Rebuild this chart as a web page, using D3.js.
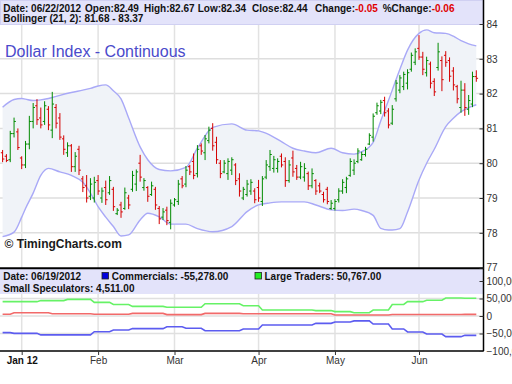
<!DOCTYPE html>
<html><head><meta charset="utf-8">
<script src="https://cdn.jsdelivr.net/npm/d3@7"></script>
<style>body{margin:0;background:#fff;} svg{display:block;font-family:"Liberation Sans",Arial,sans-serif;}</style>
</head><body><svg id="c" width="512" height="384"></svg>
<script>
// ---- Price data (daily OHLC, Dec 23 2011 .. Jun 22 2012) ----
const highs = [80.38,80.26,80.93,81.31,81.00,80.20,80.64,81.36,81.73,81.84,81.60,81.78,81.64,82.05,81.70,81.44,80.80,80.60,80.55,80.32,80.50,79.63,79.66,79.57,79.61,79.66,79.30,79.50,79.63,79.32,78.71,78.89,79.30,79.09,79.78,79.82,80.24,79.57,79.34,79.47,79.32,78.77,78.71,78.75,78.96,79.00,79.52,79.63,79.92,79.95,80.28,80.52,80.57,80.81,81.05,81.15,80.76,80.09,80.09,80.14,80.17,80.00,79.71,79.32,79.52,79.54,79.28,79.52,79.63,80.09,80.38,80.21,80.14,80.28,80.17,80.09,80.36,79.95,80.04,80.00,79.76,79.85,79.54,79.44,79.18,79.32,78.94,78.97,79.28,79.54,79.61,80.14,80.11,80.43,80.33,80.47,80.86,81.43,81.74,81.82,81.91,81.58,81.67,82.39,82.53,82.63,82.70,83.18,83.30,83.68,83.20,83.06,82.92,82.44,83.46,83.07,83.22,83.04,82.76,82.25,82.37,82.30,81.96,82.63,82.67];
const lows = [80.03,80.03,80.03,80.74,80.38,79.83,79.86,80.40,81.00,81.10,81.00,81.10,80.95,80.72,81.00,80.67,80.24,80.18,79.75,79.75,79.66,79.17,78.87,78.94,78.87,79.09,78.86,78.80,79.09,78.63,78.51,78.43,78.66,78.68,79.18,79.20,79.47,79.21,78.89,79.06,78.66,78.25,78.37,78.22,78.10,78.75,78.80,79.28,79.31,79.66,79.54,79.59,80.24,80.09,80.57,80.36,79.98,79.57,79.71,79.52,79.66,79.37,79.04,78.94,79.04,79.09,78.85,78.89,78.77,79.54,79.78,79.73,79.73,79.88,79.32,79.44,79.61,79.52,79.54,79.47,79.23,79.28,79.09,79.14,78.87,78.82,78.66,78.64,78.87,79.12,79.14,79.61,79.66,80.00,80.07,80.19,80.52,80.62,81.39,81.41,81.34,81.00,81.10,81.77,82.01,82.10,82.12,82.63,82.82,82.97,82.53,82.49,82.15,81.93,82.66,82.07,82.77,82.34,82.09,81.72,81.45,81.36,81.39,81.61,82.34];
const opens = [80.30,80.20,80.10,80.85,80.90,80.15,79.95,80.55,81.20,81.65,81.30,81.20,81.55,80.95,81.60,81.30,80.70,80.30,80.50,79.90,80.40,79.55,79.35,79.05,79.00,79.50,79.00,79.30,79.15,79.25,78.55,78.80,78.70,79.00,79.25,79.40,80.00,79.30,79.30,79.10,79.25,78.70,78.45,78.65,78.30,78.80,78.90,79.55,79.40,79.90,80.05,79.70,80.50,80.30,80.65,81.00,80.60,80.00,79.75,79.70,79.80,79.95,79.55,79.00,79.10,79.20,79.20,79.30,78.90,79.60,79.90,79.85,79.85,80.20,80.05,79.50,80.15,79.85,79.60,79.60,79.70,79.35,79.50,79.35,79.10,79.25,78.70,78.70,78.95,79.20,79.30,79.65,79.80,80.05,80.10,80.25,80.55,80.75,81.45,81.50,81.80,81.50,81.15,81.85,82.10,82.20,82.30,82.70,82.90,83.30,83.05,82.60,82.85,82.35,82.75,82.95,83.10,82.95,82.65,82.20,81.60,82.10,81.55,81.70,82.49];
const closes = [80.12,80.08,80.85,81.20,80.45,79.95,80.55,81.20,81.60,81.25,81.10,81.65,81.10,81.70,81.15,80.75,80.40,80.50,79.90,80.20,79.80,79.30,79.00,79.40,79.45,79.20,79.20,78.95,79.50,78.75,78.65,78.60,79.15,78.80,79.65,79.75,79.60,79.50,79.05,79.35,78.80,78.40,78.60,78.35,78.85,78.95,79.40,79.35,79.80,79.75,79.65,80.40,80.35,80.70,80.95,80.50,80.10,79.70,80.00,80.05,80.10,79.50,79.20,79.25,79.40,79.45,78.95,79.00,79.55,79.95,80.25,80.10,80.05,79.95,79.50,79.95,79.75,79.60,79.90,79.85,79.35,79.70,79.20,79.20,78.95,78.90,78.85,78.90,79.20,79.45,79.55,80.05,80.00,80.35,80.25,80.40,80.80,81.35,81.65,81.75,81.45,81.10,81.55,82.30,82.45,82.55,82.60,83.10,83.20,83.05,82.70,82.95,82.30,82.05,83.20,82.40,82.90,82.50,82.25,81.85,82.10,81.60,81.80,82.49,82.44];

// ---- Bollinger (21,2) ----
const bandIdx   = [0,3,5,6,8,10,12,15,18,21,23,25,27,29,31,33,36,38,41,44,48,51,55,60,64,67,70,73,76,79,82,86,89,92,94,97,99,101,102,104,106,109,111,113,116,118,120,122,124];
const upperBand = [81.61,81.83,81.86,81.84,81.80,81.82,81.86,81.95,82.03,82.10,82.15,82.22,82.25,82.08,81.85,81.30,80.47,80.10,79.82,79.78,79.88,80.43,81.03,81.13,80.95,80.93,80.81,80.62,80.43,80.35,80.30,80.43,80.30,80.26,80.33,80.60,81.22,81.80,82.10,82.70,83.25,83.73,83.83,83.75,83.73,83.65,83.52,83.43,83.37];
const lowerBand = [77.89,78.02,78.45,78.70,79.14,79.65,79.85,79.75,79.65,79.45,79.14,78.75,78.45,78.18,77.91,77.94,78.37,78.56,78.46,78.25,78.25,78.12,78.03,78.18,78.61,78.80,78.86,78.89,78.89,78.89,78.80,78.66,78.64,78.68,78.64,78.50,78.13,78.08,78.08,78.12,78.60,79.52,80.00,80.40,81.05,81.29,81.48,81.60,81.68];

// ---- Commitment of Traders (weekly, effective from bar index) ----
const cotIdx       = [0,3,10,13,17,24,29,34,43,48,53,63,68,82,87,92,97,102,106,111,116,121];
const commercials  = [-47500,-49500,-54000,-54000,-54000,-45000,-40000,-36000,-30500,-35000,-42000,-37000,-25500,-21000,-17000,-14000,-23000,-37000,-45700,-51400,-59000,-55278];
const largeTraders = [41000,41000,44000,44000,47500,39000,33000,27500,25000,25000,35000,29500,17000,15500,12500,9500,17000,33000,41000,45000,51500,50767];
const smallSpecs   = [5000,9500,9500,6500,6500,5000,5000,7500,4000,4000,7500,6500,6500,6500,3000,3000,3000,4500,4500,4500,4500,4511];

// ---- Axis ticks / labels ----
const monthTickIdx = [5,25,45,67,87,109];
const monthLabels  = ["Jan 12","Feb","Mar","Apr","May","Jun"];
const priceTicks   = [77,78,79,80,81,82,83,84];
const cotTicks     = [100000,50000,0,-50000,-100000];

const svg = d3.select("#c");
const W = 483.5;
const x = d3.scaleLinear().domain([0,124]).range([2.6,476.3]);
const y = d3.scaleLinear().domain([77,84]).range([267.6,24]);
const y2 = d3.scaleLinear().domain([-100000,100000]).range([351,281]);

const defs = svg.append("defs");
defs.append("clipPath").attr("id","cp1").append("rect").attr("x",0).attr("y",24).attr("width",W).attr("height",244);
defs.append("clipPath").attr("id","cp2").append("rect").attr("x",0).attr("y",294).attr("width",W).attr("height",57);

// ---- gridlines ----
const grid = svg.append("g");
grid.selectAll("line.h").data(priceTicks.filter(d=>d>77 && d<84)).join("line")
  .attr("x1",0).attr("x2",W).attr("y1",d=>y(d)).attr("y2",d=>y(d))
  .attr("stroke","#dedede").attr("stroke-width",1.5);
grid.selectAll("line.v").data(monthTickIdx).join("line")
  .attr("x1",d=>x(d)).attr("x2",d=>x(d)).attr("y1",24).attr("y2",268)
  .attr("stroke","#e2e2e2").attr("stroke-width",1.5);
const grid2 = svg.append("g");
grid2.selectAll("line").data(monthTickIdx).join("line")
  .attr("x1",d=>x(d)).attr("x2",d=>x(d)).attr("y1",294).attr("y2",351)
  .attr("stroke","#e2e2e2").attr("stroke-width",1.5);
const grid3 = svg.append("g");
grid3.selectAll("line").data([50000,0,-50000]).join("line")
  .attr("x1",0).attr("x2",W).attr("y1",d=>y2(d)).attr("y2",d=>y2(d))
  .attr("stroke","#e0e0e0").attr("stroke-width",1.5);

// ---- Bollinger band ----
const topG = svg.append("g").attr("clip-path","url(#cp1)");
const bandPts = bandIdx.map((d,i)=>({i:d,u:upperBand[i],l:lowerBand[i]}));
topG.append("path").datum(bandPts)
  .attr("d", d3.area().x(d=>x(d.i)).y0(d=>y(d.l)).y1(d=>y(d.u)).curve(d3.curveMonotoneX))
  .attr("fill","#f0f3f8");
topG.append("path").datum(bandPts)
  .attr("d", d3.line().x(d=>x(d.i)).y(d=>y(d.u)).curve(d3.curveMonotoneX))
  .attr("fill","none").attr("stroke","#a9a9f7").attr("stroke-width",1.4);
topG.append("path").datum(bandPts)
  .attr("d", d3.line().x(d=>x(d.i)).y(d=>y(d.l)).curve(d3.curveMonotoneX))
  .attr("fill","none").attr("stroke","#a9a9f7").attr("stroke-width",1.4);

// ---- OHLC bars ----
const bars = highs.map((h,i)=>({i,h,l:lows[i],o:opens[i],c:closes[i]}));
const col = d=> d.c>=d.o ? "#008a00" : "#d40000";
const bg = topG.append("g");
bg.selectAll("line.hl").data(bars).join("line").attr("class","hl")
  .attr("x1",d=>x(d.i)).attr("x2",d=>x(d.i)).attr("y1",d=>y(d.h)).attr("y2",d=>y(d.l))
  .attr("stroke",col).attr("stroke-width",1);
bg.selectAll("line.o").data(bars).join("line").attr("class","o")
  .attr("x1",d=>x(d.i)-1.8).attr("x2",d=>x(d.i)).attr("y1",d=>y(d.o)).attr("y2",d=>y(d.o))
  .attr("stroke",col).attr("stroke-width",1);
bg.selectAll("line.c").data(bars).join("line").attr("class","c")
  .attr("x1",d=>x(d.i)).attr("x2",d=>x(d.i)+1.8).attr("y1",d=>y(d.c)).attr("y2",d=>y(d.c))
  .attr("stroke",col).attr("stroke-width",1);

// ---- COT lines ----
const bot = svg.append("g").attr("clip-path","url(#cp2)");
function daily(arr){
  return highs.map((_,i)=>{
    let k=0; for(let j=0;j<cotIdx.length;j++){ if(cotIdx[j]<=i) k=j; }
    return {i, v:arr[k]};
  });
}
const cl = d3.line().x(d=>x(d.i)).y(d=>y2(d.v));
[[largeTraders,"#66f266"],[smallSpecs,"#f26a6a"],[commercials,"#5c5cf0"]].forEach(([arr,c])=>{
  bot.append("path").datum(daily(arr)).attr("d",cl).attr("fill","none").attr("stroke",c).attr("stroke-width",1.6);
});

// ---- header bands ----
svg.append("rect").attr("x",0.5).attr("y",0.5).attr("width",W-1).attr("height",24).attr("fill","#e3e3fa").attr("stroke","#d0d0f2");
svg.append("rect").attr("x",0).attr("y",269).attr("width",W).attr("height",25).attr("fill","#e3e3fa");

const hdr = svg.append("g").attr("font-size",10).attr("font-weight","bold").attr("fill","#111");
const line1 = [["Date: 06/22/2012",3.3,"#111"],["Open:82.49",85,"#111"],["High:82.67",144,"#111"],["Low:82.34",197.7,"#111"],
  ["Close:82.44",252,"#111"],["Change:",315,"#111"],["-0.05",355,"#e00000"],["%Change:",382.7,"#111"],["-0.06",431.7,"#e00000"]];
line1.forEach(([t,xx,c])=>hdr.append("text").attr("x",xx).attr("y",11.5).attr("fill",c).text(t));
hdr.append("text").attr("x",3.3).attr("y",22).text("Bollinger (21, 2): 81.68 - 83.37");

hdr.append("text").attr("x",3.3).attr("y",279.5).text("Date: 06/19/2012");
hdr.append("rect").attr("x",102).attr("y",272.5).attr("width",6.5).attr("height",6.5).attr("fill","#0000dd").attr("stroke","#222").attr("stroke-width",0.8);
hdr.append("text").attr("x",111.7).attr("y",279.5).text("Commercials: -55,278.00");
hdr.append("rect").attr("x",255).attr("y",272.5).attr("width",6.5).attr("height",6.5).attr("fill","#22ee22").attr("stroke","#222").attr("stroke-width",0.8);
hdr.append("text").attr("x",264.5).attr("y",279.5).text("Large Traders: 50,767.00");
hdr.append("text").attr("x",3.3).attr("y",292).text("Small Speculators: 4,511.00");

// ---- title / watermark ----
svg.append("text").attr("x",5).attr("y",56.5).attr("font-size",16).attr("fill","#4a4acb").text("Dollar Index - Continuous");
svg.append("text").attr("x",4.5).attr("y",248).attr("font-size",12).attr("font-weight","bold").attr("fill","#1a1a1a").text("\u00A9 TimingCharts.com");

// ---- frame ----
svg.append("line").attr("x1",0).attr("x2",W).attr("y1",268.3).attr("y2",268.3).attr("stroke","#000").attr("stroke-width",2);
svg.append("line").attr("x1",0).attr("x2",W).attr("y1",351).attr("y2",351).attr("stroke","#000").attr("stroke-width",1.5);
svg.append("line").attr("x1",W).attr("x2",W).attr("y1",0).attr("y2",351).attr("stroke","#000").attr("stroke-width",1.5);

// ---- axes ----
const ay = svg.append("g").attr("transform",`translate(${W},0)`)
  .call(d3.axisRight(y).tickValues(priceTicks).tickSize(-4).tickPadding(3).tickFormat(d3.format("d")));
const ay2 = svg.append("g").attr("transform",`translate(${W},0)`)
  .call(d3.axisRight(y2).tickValues(cotTicks).tickSize(-4).tickPadding(3).tickFormat(d3.format(",")));
const ax = svg.append("g").attr("transform","translate(0,351)")
  .call(d3.axisBottom(x).tickValues(monthTickIdx).tickSize(4).tickPadding(2).tickFormat((d,i)=>monthLabels[i]));
[ay,ay2,ax].forEach(g=>{
  g.select(".domain").remove();
  g.selectAll("text").attr("font-family","'Liberation Sans',Arial,sans-serif").attr("font-size",10).attr("fill","#333");
  g.selectAll(".tick line").attr("stroke","#333");
});
ax.selectAll(".tick text").filter((d,i)=>i===0).attr("font-weight","bold").attr("fill","#111");
</script></body></html>
